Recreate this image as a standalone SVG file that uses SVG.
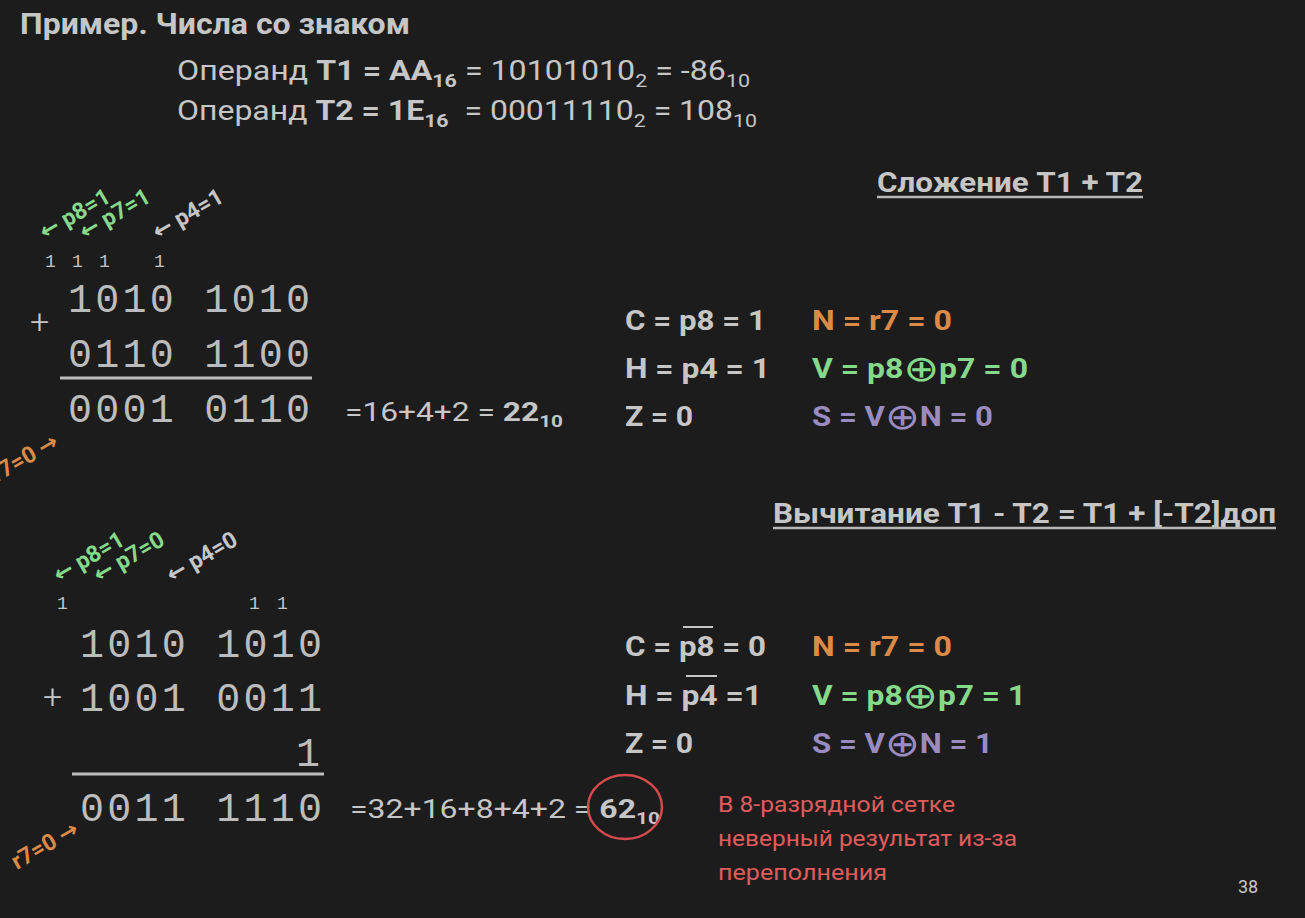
<svg xmlns="http://www.w3.org/2000/svg" width="1305" height="918" viewBox="0 0 1305 918">
<style>
text{font-family:Roboto,"Noto Sans","DejaVu Sans",sans-serif;fill:#c6c6c6}
.b{font-weight:700}
.mono{font-family:"Liberation Mono","DejaVu Sans Mono",monospace;font-size:40px;fill:#bcbcbc}
.carry{font-family:"Liberation Mono","DejaVu Sans Mono",monospace;font-size:18px;fill:#c4c4c4}
.ann{font-size:23px;font-weight:700}
.g{fill:#86d98a}
.o{fill:#dc8a48}
.p{fill:#9a8cc0}
.r{fill:#e05c5c}
.f{font-size:27px;font-weight:700}
.x{font-family:"DejaVu Sans",sans-serif;font-weight:400;font-size:36px}
.rule{stroke:#bcbcbc;stroke-width:3;fill:none}
.ul{stroke:#b8b8b8;stroke-width:2.5;fill:none}
.ov{stroke:#c6c6c6;stroke-width:2;fill:none}
</style>
<rect width="1305" height="918" fill="#1c1c1c"/>

<g id="header">
<text class="b" x="20" y="34" font-size="29" textLength="390" lengthAdjust="spacingAndGlyphs" fill="#b9bcc6">Пример. Числа со знаком</text>
<text x="177" y="80" font-size="27" textLength="573" lengthAdjust="spacingAndGlyphs" xml:space="preserve">Операнд <tspan class="b">T1 = AA</tspan><tspan class="b" font-size="18" dy="7">16</tspan><tspan dy="-7"> = 10101010</tspan><tspan font-size="18" dy="7">2</tspan><tspan dy="-7"> = -86</tspan><tspan font-size="18" dy="7">10</tspan></text>
<text x="177" y="120" font-size="27" textLength="580" lengthAdjust="spacingAndGlyphs" xml:space="preserve">Операнд <tspan class="b">T2 = 1E</tspan><tspan class="b" font-size="18" dy="7">16</tspan><tspan dy="-7">  = 00011110</tspan><tspan font-size="18" dy="7">2</tspan><tspan dy="-7"> = 108</tspan><tspan font-size="18" dy="7">10</tspan></text>
</g>

<g id="add-title">
<text class="b" x="877" y="192" font-size="27" textLength="266" lengthAdjust="spacingAndGlyphs" fill="#bcbcc4">Сложение T1 + T2</text>
<line class="ul" x1="877" y1="197" x2="1143" y2="197"/>
</g>

<g id="add-calc">
<text class="ann g" transform="translate(45,240) rotate(-30)">← p8=1</text>
<text class="ann g" transform="translate(85,240) rotate(-30)">← p7=1</text>
<text class="ann" transform="translate(158,240) rotate(-30)" fill="#c0c0c0">← p4=1</text>
<text class="carry" x="45" y="267">1</text>
<text class="carry" x="72" y="267">1</text>
<text class="carry" x="99" y="267">1</text>
<text class="carry" x="154" y="267">1</text>
<text x="30" y="333" font-size="34" font-weight="300">+</text>
<text class="mono" x="68" y="312" textLength="242" xml:space="preserve">1010 1010</text>
<text class="mono" x="68" y="367" textLength="242" xml:space="preserve">0110 1100</text>
<line class="rule" x1="60" y1="378" x2="312" y2="378"/>
<text class="mono" x="68" y="422" textLength="242" xml:space="preserve">0001 0110</text>
<text class="ann o" transform="translate(60,446) rotate(-30)" text-anchor="end">r7=0 →</text>
<text x="345" y="421" font-size="26" textLength="218" lengthAdjust="spacingAndGlyphs" xml:space="preserve">=16+4+2 = <tspan class="b">22</tspan><tspan class="b" font-size="17" dy="6">10</tspan></text>
</g>

<g id="add-flags">
<text class="f" x="625" y="330" textLength="141" lengthAdjust="spacingAndGlyphs">C = p8 = 1</text>
<text class="f" x="625" y="378" textLength="145" lengthAdjust="spacingAndGlyphs">H = p4 = 1</text>
<text class="f" x="625" y="426" textLength="68" lengthAdjust="spacingAndGlyphs">Z = 0</text>
<text class="f o" x="812" y="330" textLength="140" lengthAdjust="spacingAndGlyphs">N = r7 = 0</text>
<text class="f g" x="812" y="378" textLength="216" lengthAdjust="spacingAndGlyphs">V = p8<tspan class="x" dy="3">⊕</tspan><tspan dy="-3">p7 = 0</tspan></text>
<text class="f p" x="812" y="426" textLength="181" lengthAdjust="spacingAndGlyphs">S = V<tspan class="x" dy="3">⊕</tspan><tspan dy="-3">N = 0</tspan></text>
</g>

<g id="sub-title">
<text class="b" x="773" y="523" font-size="27" textLength="503" lengthAdjust="spacingAndGlyphs" fill="#bcbcc4">Вычитание T1 - T2 = T1 + [-T2]доп</text>
<line class="ul" x1="773" y1="528" x2="1276" y2="528"/>
</g>

<g id="sub-calc">
<text class="ann g" transform="translate(59,583) rotate(-30)">← p8=1</text>
<text class="ann g" transform="translate(99,583) rotate(-30)">← p7=0</text>
<text class="ann" transform="translate(172,583) rotate(-30)" fill="#c0c0c0">← p4=0</text>
<text class="carry" x="57" y="609">1</text>
<text class="carry" x="249" y="609">1</text>
<text class="carry" x="277" y="609">1</text>
<text class="mono" x="80" y="657" textLength="242" xml:space="preserve">1010 1010</text>
<text x="43" y="708" font-size="34" font-weight="300">+</text>
<text class="mono" x="80" y="711" textLength="242" xml:space="preserve">1001 0011</text>
<text class="mono" x="296" y="766">1</text>
<line class="rule" x1="72" y1="774" x2="324" y2="774"/>
<text class="mono" x="80" y="821" textLength="242" xml:space="preserve">0011 1110</text>
<text class="ann o" transform="translate(17,870) rotate(-30)">r7=0 →</text>
<text x="350" y="818" font-size="26" textLength="310" lengthAdjust="spacingAndGlyphs" xml:space="preserve">=32+16+8+4+2 = <tspan class="b">62</tspan><tspan class="b" font-size="17" dy="6">10</tspan></text>
<ellipse cx="625" cy="807" rx="37" ry="32" fill="none" stroke="#d24a4c" stroke-width="2.5"/>
</g>

<g id="sub-flags">
<text class="f" x="625" y="656" textLength="141" lengthAdjust="spacingAndGlyphs">C = p8 = 0</text>
<line class="ov" x1="683" y1="627" x2="713" y2="627"/>
<text class="f" x="625" y="705" textLength="137" lengthAdjust="spacingAndGlyphs">H = p4 =1</text>
<line class="ov" x1="686" y1="676" x2="717" y2="676"/>
<text class="f" x="625" y="753" textLength="68" lengthAdjust="spacingAndGlyphs">Z = 0</text>
<text class="f o" x="812" y="656" textLength="140" lengthAdjust="spacingAndGlyphs">N = r7 = 0</text>
<text class="f g" x="812" y="705" textLength="214" lengthAdjust="spacingAndGlyphs">V = p8<tspan class="x" dy="3">⊕</tspan><tspan dy="-3">p7 = 1</tspan></text>
<text class="f p" x="812" y="753" textLength="181" lengthAdjust="spacingAndGlyphs">S = V<tspan class="x" dy="3">⊕</tspan><tspan dy="-3">N = 1</tspan></text>
</g>

<g id="note">
<text class="r" x="718" y="812" font-size="22" textLength="237" lengthAdjust="spacingAndGlyphs">В 8-разрядной сетке</text>
<text class="r" x="718" y="846" font-size="22" textLength="299" lengthAdjust="spacingAndGlyphs">неверный результат из-за</text>
<text class="r" x="718" y="880" font-size="22" textLength="169" lengthAdjust="spacingAndGlyphs">переполнения</text>
<text x="1238" y="893" font-size="18" fill="#8c8c8c">38</text>
</g>

<g id="connectors"></g>
</svg>
